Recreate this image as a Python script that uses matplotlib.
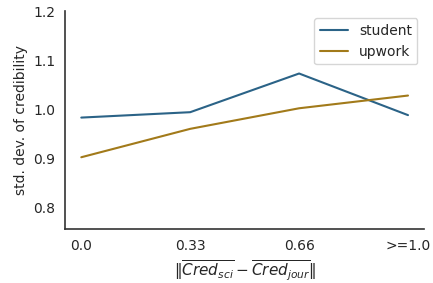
import matplotlib
matplotlib.use("Agg")
import matplotlib.pyplot as plt
import seaborn as sns

categories = ["0.0", "0.33", "0.66", ">=1.0"]
student = [0.983, 0.994, 1.073, 0.988]
upwork = [0.902, 0.960, 1.002, 1.028]
yticks = [0.8, 0.9, 1.0, 1.1, 1.2]

sns.set_style("white")
plt.rcParams['font.family'] = ['DejaVu Sans']

fig, ax = plt.subplots(figsize=(4.33, 2.83), dpi=100)
x = list(range(len(categories)))
ax.plot(x, student, color="#2b6387", lw=1.5, label="student")
ax.plot(x, upwork, color="#a27a1a", lw=1.5, label="upwork")

ax.set_xticks(x)
ax.set_xticklabels(categories, fontsize=10)
ax.set_yticks(yticks)
ax.set_yticklabels([f"{v:.1f}" for v in yticks], fontsize=10)
ax.set_ylim(0.755, 1.2)
ax.set_ylabel("std. dev. of credibility", fontsize=10)
ax.set_xlabel(r"$\Vert\overline{Cred_{sci}} - \overline{Cred_{jour}}\Vert$", fontsize=11)
ax.legend(loc="upper right", fontsize=10)
sns.despine(ax=ax)
for s in ["left", "bottom"]:
    ax.spines[s].set_color("#333333")
    ax.spines[s].set_linewidth(1.2)

fig.subplots_adjust(left=0.15, right=0.98, top=0.96, bottom=0.19)
fig.savefig("out.png", dpi=100)
